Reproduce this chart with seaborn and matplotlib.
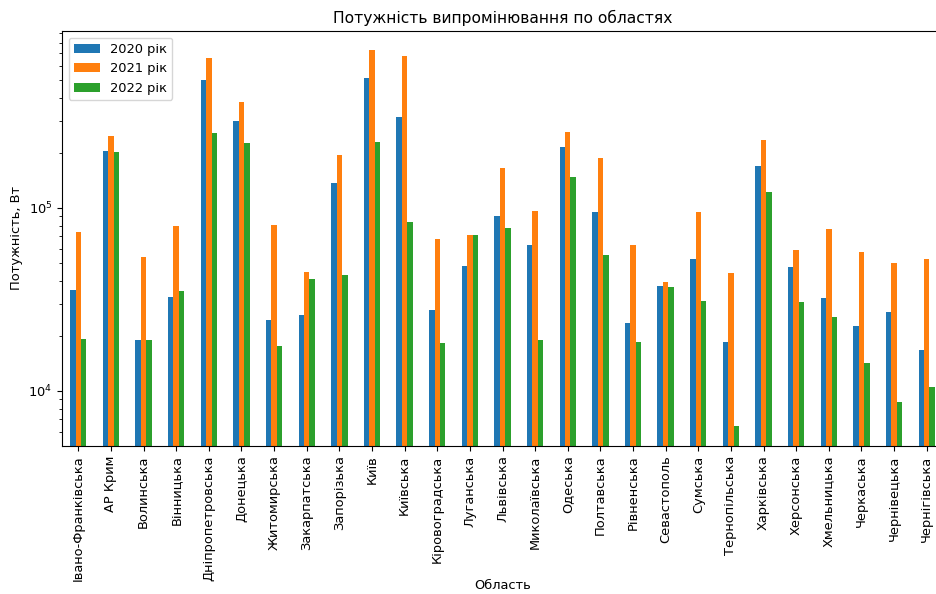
import matplotlib
matplotlib.use("Agg")
import matplotlib.pyplot as plt
import seaborn as sns
import pandas as pd

regions = ["Івано-Франківська", "АР Крим", "Волинська", "Вінницька", "Дніпропетровська",
           "Донецька", "Житомирська", "Закарпатська", "Запорізька", "Київ", "Київська",
           "Кіровоградська", "Луганська", "Львівська", "Миколаївська", "Одеська",
           "Полтавська", "Рівненська", "Севастополь", "Сумська", "Тернопільська",
           "Харківська", "Херсонська", "Хмельницька", "Черкаська", "Чернівецька",
           "Чернігівська"]

p2020 = [35600, 205000, 18900, 32700, 500000, 299000, 24300, 26000, 137000, 513000,
         314000, 27600, 48400, 90100, 63000, 215000, 95100, 23600, 37500, 52400,
         18500, 169000, 47700, 32400, 22600, 26900, 16700]
p2021 = [74000, 246000, 54200, 79400, 661000, 380000, 80400, 44700, 194000, 729000,
         675000, 67400, 71400, 165000, 96300, 260000, 188000, 63000, 39400, 95100,
         44100, 235000, 58800, 76500, 57500, 50000, 52400]
p2022 = [19300, 202000, 18900, 35200, 257000, 226000, 17600, 41100, 43000, 229000,
         83800, 18200, 71400, 77400, 18900, 147000, 55300, 18500, 37000, 31000,
         6440, 122000, 30600, 25200, 14200, 8700, 10500]

years = ["2020 рік", "2021 рік", "2022 рік"]

rows = []
for yname, vals in zip(years, [p2020, p2021, p2022]):
    for r, v in zip(regions, vals):
        rows.append({"Область": r, "Рік": yname, "Потужність": v})
df = pd.DataFrame(rows)

plt.rcParams["font.size"] = 9.36

fig = plt.figure(figsize=(9.36, 5.94), dpi=100)
ax = fig.add_axes([62 / 936, 1 - 445.7 / 594, 881 / 936, (445.7 - 31) / 594])
ax.set_yscale("log")
sns.barplot(data=df, x="Область", y="Потужність", hue="Рік", hue_order=years,
            order=regions, palette=["#1f77b4", "#ff7f0e", "#2ca02c"], saturation=1,
            width=0.5, gap=0, errorbar=None, linewidth=0, ax=ax)
ax.set_xlim(-0.5, 26.5)
ax.set_ylim(5020, 927000)
ax.set_title("Потужність випромінювання по областях", fontsize=11.2)
ax.set_xlabel("Область")
ax.xaxis.set_label_coords(0.5, -0.322)
ax.set_ylabel("Потужність, Вт")
ax.yaxis.set_label_coords(-0.044, 0.5)
ax.tick_params(axis="x", labelrotation=90)
ax.legend(loc="upper left")
fig.savefig("out.png", dpi=100)
